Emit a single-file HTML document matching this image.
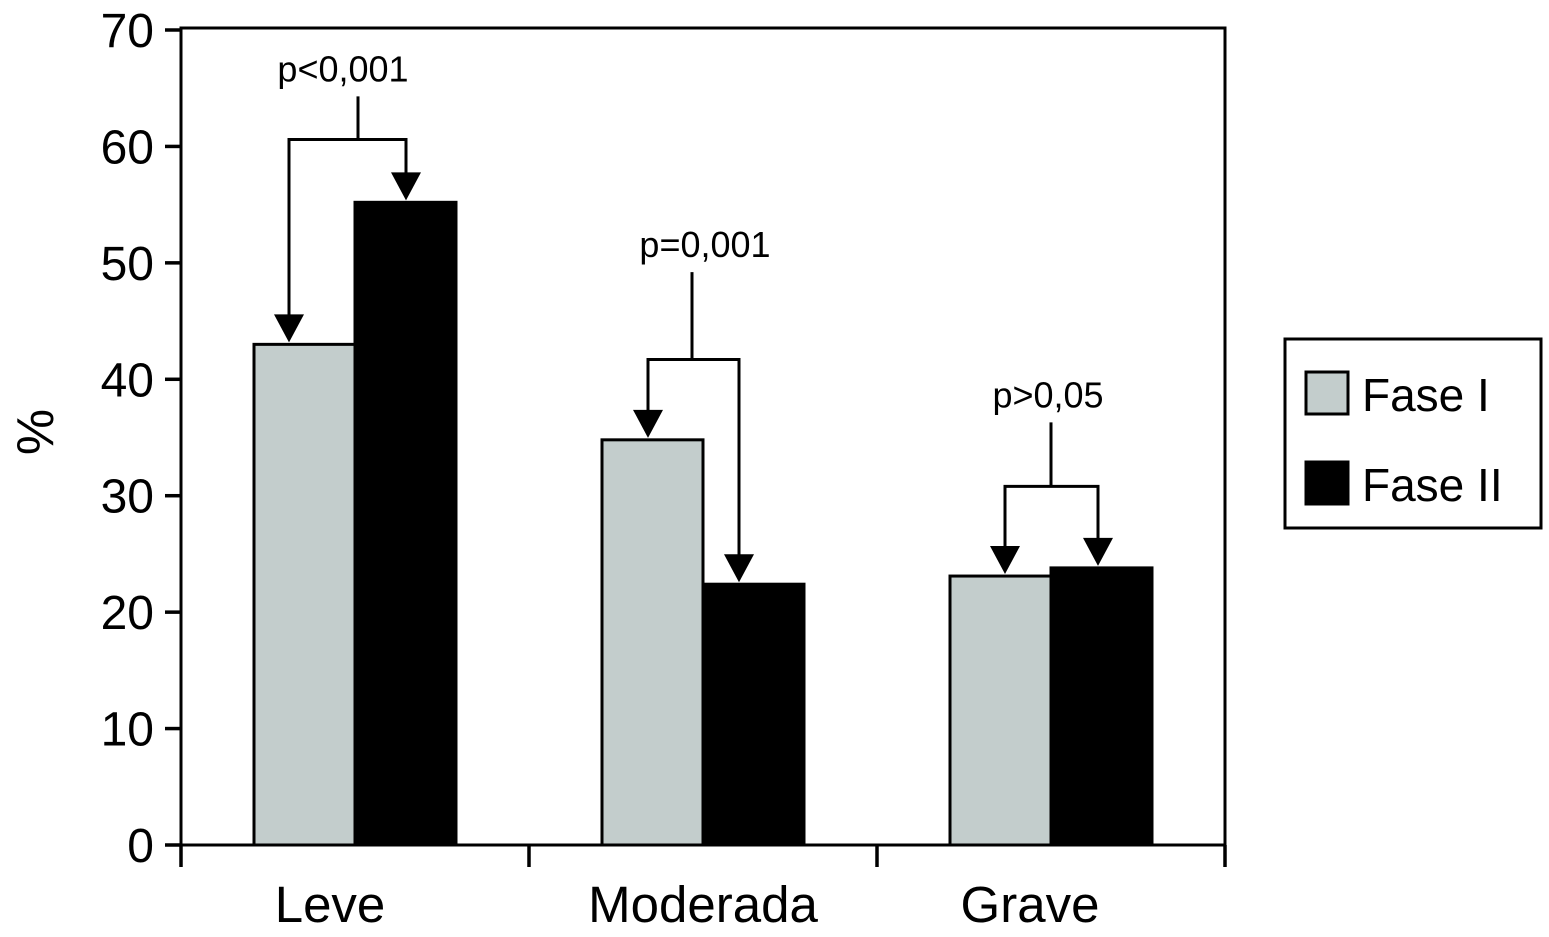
<!DOCTYPE html>
<html><head><meta charset="utf-8"><style>
html,body{margin:0;padding:0;background:#fff;}
svg{display:block;font-family:"Liberation Sans",Arial,sans-serif;}
</style></head><body>
<svg id="chart" width="1549" height="937" viewBox="0 0 1549 937"></svg>
<script>
const categories = ["Leve","Moderada","Grave"];
const fase1 = [43, 34.8, 23.1];
const fase2 = [55.2, 22.4, 23.8];
const yTicks = [0,10,20,30,40,50,60,70];
const pLabels = ["p<0,001","p=0,001","p>0,05"];
const pLevels = [60.6, 41.7, 30.8];
const pStemTop = [64.3, 49.2, 36.3];

const svg = document.getElementById('chart');
const NS = "http://www.w3.org/2000/svg";
const X0=181, X1=1225, Y0=845, Y1=30;
const y = v => Y0 - (v/70)*(Y0-Y1);
const groupW = (X1-X0)/3;
const gStart = i => X0 + i*groupW;
const barW = 101;
const barX1 = i => gStart(i) + groupW/2 - barW;
const barX2 = i => gStart(i) + groupW/2;
const arrowOff1 = [35, 46, 55];
const arrowOff2 = [51, 36, 47];
const stemX = [358, 692, 1051];
const labelX = [343, 705, 1048];
const catX = [330, 703, 1030];
function el(tag, attrs, text){
  const e=document.createElementNS(NS,tag);
  for(const k in attrs) e.setAttribute(k,attrs[k]);
  if(text!==undefined) e.textContent=text;
  svg.appendChild(e); return e;
}
let a=el('rect',{x:X0,y:28,width:X1-X0,height:Y0-28,fill:'none',stroke:'#000','stroke-width':3});


yTicks.forEach(t=>{
  let l=el('line',{x1:X0-16,x2:X0,y1:y(t),y2:y(t),stroke:'#000','stroke-width':3.5});
  
  
  let tx=el('text',{x:X0-27,y:y(t)+17,'text-anchor':'end','font-size':48},String(t));
  
  
});
for(let i=0;i<=3;i++){
  let l=el('line',{x1:gStart(i),x2:gStart(i),y1:Y0,y2:Y0+22,stroke:'#000','stroke-width':3.5});
  
  
}
categories.forEach((c,i)=>{
  let tx=el('text',{x:catX[i],y:922,'text-anchor':'middle','font-size':51},c);
  
  
});
let yt=el('text',{x:0,y:0,'text-anchor':'middle','font-size':52,transform:'translate(53,432) rotate(-90)'},'%');


categories.forEach((c,i)=>{
  let b1=el('rect',{x:barX1(i),y:y(fase1[i]),width:barW,height:Y0-y(fase1[i]),fill:'#c3cdcc',stroke:'#000','stroke-width':3});
  
  
  let b2=el('rect',{x:barX2(i),y:y(fase2[i]),width:barW,height:Y0-y(fase2[i]),fill:'#000',stroke:'#000','stroke-width':3});
  
  
});
function arrow(x,tipY){
  let p=el('polygon',{points:`${x-15},${tipY-28} ${x+15},${tipY-28} ${x},${tipY}`,fill:'#000'});
  
  
}
categories.forEach((c,i)=>{
  const xa=barX1(i)+arrowOff1[i], xb=barX2(i)+arrowOff2[i];
  const ta=y(fase1[i])-2, tb=y(fase2[i])-2;
  const hy=y(pLevels[i]);
  const mx=stemX[i];
  const path=`M${xa},${ta-20} V${hy} H${xb} V${tb-20} M${mx},${hy} V${y(pStemTop[i])}`;
  let pth=el('path',{d:path,fill:'none',stroke:'#000','stroke-width':3});
  
  
  arrow(xa,ta); arrow(xb,tb);
  let tx=el('text',{x:labelX[i],y:y(pStemTop[i])-15,'text-anchor':'middle','font-size':36},pLabels[i]);
  
  
});
let lg=el('rect',{x:1285,y:339,width:256,height:189,fill:'#fff',stroke:'#000','stroke-width':3});


[['#c3cdcc','Fase I',372],['#000','Fase II',462]].forEach(([f,t,yy])=>{
  let s=el('rect',{x:1306,y:yy,width:42,height:42,fill:f,stroke:'#000','stroke-width':3});
  
  
  let tx=el('text',{x:1362,y:yy+39,'font-size':46},t);
  
  
});
</script>
</body></html>
